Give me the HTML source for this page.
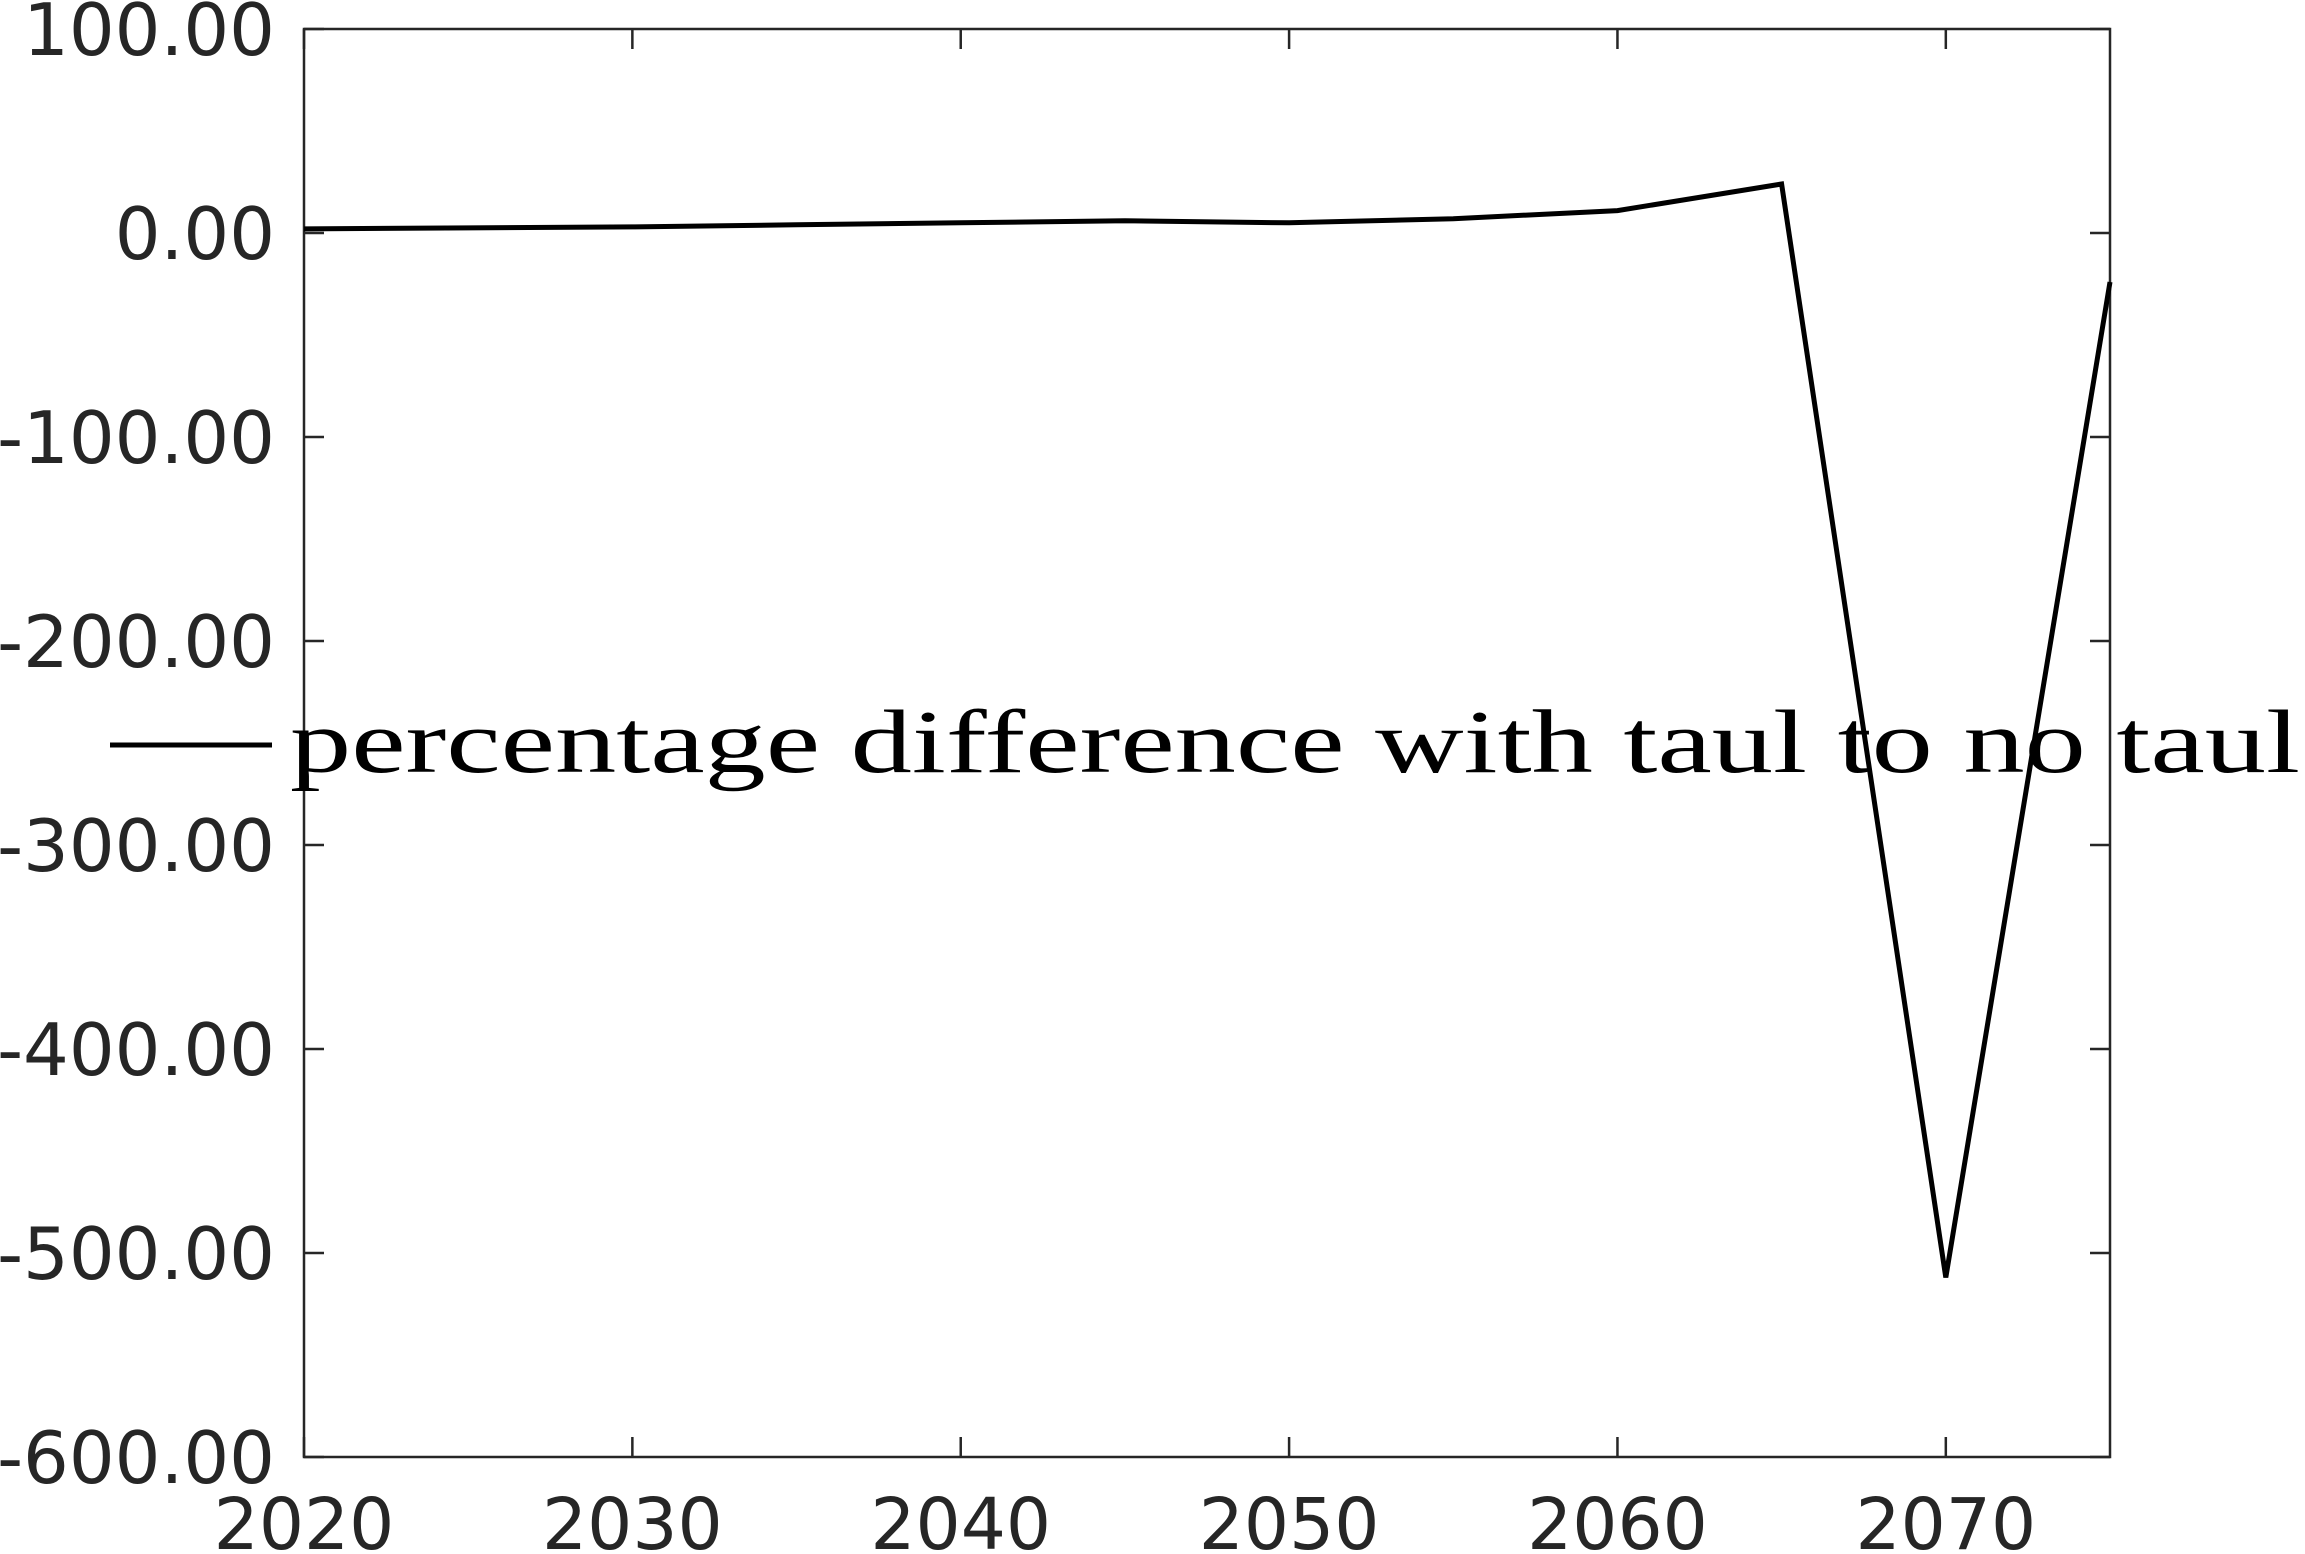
<!DOCTYPE html>
<html><head><meta charset="utf-8"><style>html,body{margin:0;padding:0;background:#fff}svg{display:block}</style></head>
<body>
<svg id="chart" width="2305" height="1554" viewBox="0 0 2305 1554" xmlns="http://www.w3.org/2000/svg"></svg>
<script>
const years = [2020,2025,2030,2035,2040,2045,2050,2055,2060,2065,2070,2075];
const values = [2,2.5,3,4,5,6,5,7,11,24,-512,-24];
const xTicks = [2020,2030,2040,2050,2060,2070];
const yTicks = [100,0,-100,-200,-300,-400,-500,-600];
const legendLabel = 'percentage difference with taul to no taul';

const L=304,R=2110,T=29,B=1457;
const X0=2020,X1=2075,Y0=-600,Y1=100;
function sx(v){return L+(v-X0)/(X1-X0)*(R-L);}
function sy(v){return B-(v-Y0)/(Y1-Y0)*(B-T);}
const svg=document.getElementById('chart');
const NS='http://www.w3.org/2000/svg';
function mk(tag,attrs,parent){const e=document.createElementNS(NS,tag);for(const k in attrs)e.setAttribute(k,attrs[k]);(parent||svg).appendChild(e);return e;}

const frame=mk('rect',{x:L,y:T,width:R-L,height:B-T,fill:'none',stroke:'#262626','stroke-width':2.5});



const xg=mk('g',{});


xTicks.forEach(t=>{
  const x=sx(t);
  mk('line',{x1:x,y1:B,x2:x,y2:B-20,stroke:'#262626','stroke-width':2.5},xg);
  mk('line',{x1:x,y1:T,x2:x,y2:T+20,stroke:'#262626','stroke-width':2.5},xg);
  const tx=mk('text',{x:x,y:1549,'text-anchor':'middle','font-family':'DejaVu Sans, Liberation Sans, sans-serif','font-size':71,fill:'#262626'},xg);
  tx.textContent=t;
  
  
});
const yg=mk('g',{});


yTicks.forEach(t=>{
  const y=sy(t);
  mk('line',{x1:L,y1:y,x2:L+20,y2:y,stroke:'#262626','stroke-width':2.5},yg);
  mk('line',{x1:R,y1:y,x2:R-20,y2:y,stroke:'#262626','stroke-width':2.5},yg);
  const tx=mk('text',{x:275,y:y+26,'text-anchor':'end','font-family':'DejaVu Sans, Liberation Sans, sans-serif','font-size':72,fill:'#262626'},yg);
  tx.textContent=t.toFixed(2);
  
  
});

const pts=years.map((y,i)=>sx(y).toFixed(1)+','+sy(values[i]).toFixed(1)).join(' ');
const line=mk('polyline',{points:pts,fill:'none',stroke:'#000','stroke-width':5,'stroke-linejoin':'miter'});



const lg=mk('g',{});


mk('line',{x1:110,y1:745,x2:272,y2:745,stroke:'#000','stroke-width':5},lg);
const lt=mk('text',{x:290,y:772,'font-family':'Liberation Serif, DejaVu Serif, serif','font-size':90,fill:'#000',textLength:2010,lengthAdjust:'spacingAndGlyphs'},lg);
lt.textContent=legendLabel;


</script>
</body></html>
